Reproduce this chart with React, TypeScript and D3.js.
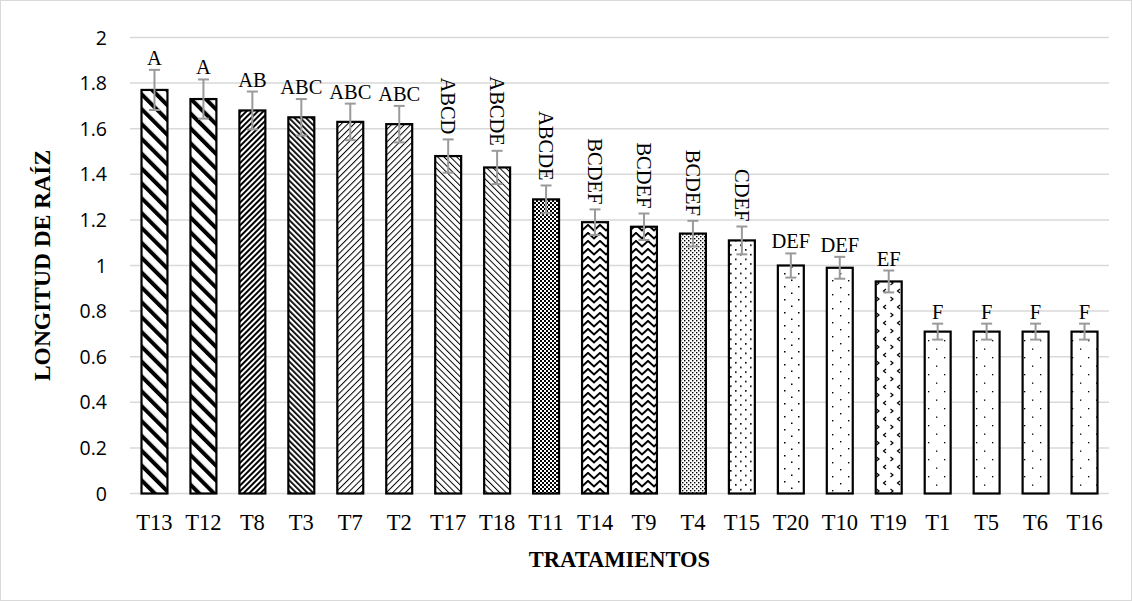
import React from 'react';
import * as d3 from 'd3';

const treatments = ['T13', 'T12', 'T8', 'T3', 'T7', 'T2', 'T17', 'T18', 'T11', 'T14', 'T9', 'T4', 'T15', 'T20', 'T10', 'T19', 'T1', 'T5', 'T6', 'T16'];
const rootLength = [1.77, 1.73, 1.68, 1.65, 1.63, 1.62, 1.48, 1.43, 1.29, 1.19, 1.17, 1.14, 1.11, 1.0, 0.99, 0.93, 0.71, 0.71, 0.71, 0.71];
const stdError = [0.088, 0.086, 0.083, 0.08, 0.08, 0.08, 0.073, 0.073, 0.061, 0.056, 0.058, 0.056, 0.061, 0.053, 0.048, 0.048, 0.035, 0.035, 0.035, 0.035];
const groups = ['A', 'A', 'AB', 'ABC', 'ABC', 'ABC', 'ABCD', 'ABCDE', 'ABCDE', 'BCDEF', 'BCDEF', 'BCDEF', 'CDEF', 'DEF', 'DEF', 'EF', 'F', 'F', 'F', 'F'];
const yTicks = [0, 0.2, 0.4, 0.6, 0.8, 1, 1.2, 1.4, 1.6, 1.8, 2];

// fill pattern used by each bar (Excel pattern fills)
const barPatterns = ['wideDown', 'wideDown', 'darkUp', 'darkDown', 'lightUp', 'lightUp', 'lightDown', 'lightDown', 'checker', 'zigzag', 'zigzag', 'dots50', 'dots30', 'dots20', 'dots10', 'confetti', 'dots5', 'dots5', 'dots5', 'dots5'];

const width = 1132;
const height = 601;
const marginLeft = 130;
const marginRight = 23;
const marginTop = 37.5;
const marginBottom = 107.5;

const serif = '"Liberation Serif", "Times New Roman", serif';
const sans = '"Open Sans", "Liberation Sans", sans-serif';

const Stripe = ({ id, size, w, angle }: { id: string; size: number; w: number; angle: number }) => (
  <pattern id={id} patternUnits="userSpaceOnUse" width={size} height={size} patternTransform={`rotate(${angle})`}>
    <rect width={size} height={size} fill="#fff" />
    <rect width={w} height={size} fill="#000" />
  </pattern>
);

const Dots = ({ id, pw, ph, r }: { id: string; pw: number; ph: number; r: number }) => (
  <pattern id={id} patternUnits="userSpaceOnUse" width={pw} height={ph}>
    <rect width={pw} height={ph} fill="#fff" />
    <rect x={0} y={0} width={r} height={r} fill="#000" />
    <rect x={pw / 2} y={ph / 2} width={r} height={r} fill="#000" />
  </pattern>
);

export default function App() {
  const x = d3.scaleBand<string>()
    .domain(treatments)
    .range([marginLeft, width - marginRight])
    .paddingInner(0.47)
    .paddingOuter(0.235);

  const y = d3.scaleLinear()
    .domain([0, 2])
    .range([height - marginBottom, marginTop]);

  const bw = x.bandwidth();

  return (
    <svg width={width} height={height} style={{ position: 'absolute', left: 0, top: 0 }}>
      <defs>
        <Stripe id="wideDown" size={10.5} w={4} angle={-45} />
        <Stripe id="darkUp" size={4} w={2} angle={45} />
        <Stripe id="darkDown" size={4} w={1.8} angle={-45} />
        <Stripe id="lightUp" size={4.5} w={1} angle={45} />
        <Stripe id="lightDown" size={4.5} w={1} angle={-45} />
        <pattern id="checker" patternUnits="userSpaceOnUse" width={4} height={4}>
          <rect width={4} height={4} fill="#fff" />
          <rect width={2} height={2} fill="#000" />
          <rect x={2} y={2} width={2} height={2} fill="#000" />
        </pattern>
        <pattern id="zigzag" patternUnits="userSpaceOnUse" width={12} height={8}>
          <rect width={12} height={8} fill="#fff" />
          <path d="M-1,0 L6,6.5 L13,0" fill="none" stroke="#000" strokeWidth={2} />
        </pattern>
        <Dots id="dots50" pw={4} ph={4} r={1.4} />
        <Dots id="dots30" pw={10} ph={9.4} r={1.6} />
        <Dots id="dots20" pw={14} ph={13} r={1.5} />
        <Dots id="dots10" pw={16} ph={14} r={1.4} />
        <Dots id="dots5" pw={16} ph={17} r={1.3} />
        <pattern id="confetti" patternUnits="userSpaceOnUse" width={14} height={16}>
          <rect width={14} height={16} fill="#fff" />
          <path d="M4,1 L1.5,3 L4,5" fill="none" stroke="#000" strokeWidth={1.2} />
          <path d="M8.5,9 L11,11 L8.5,13" fill="none" stroke="#000" strokeWidth={1.2} />
        </pattern>
      </defs>

      <rect x={0.5} y={0.5} width={width - 1} height={height - 1} fill="#fff" stroke="#d9d9d9" />

      {/* gridlines */}
      {yTicks.map(t => (
        <line key={t} x1={marginLeft} x2={width - marginRight} y1={y(t)} y2={y(t)} stroke="#d9d9d9" strokeWidth={1.5} />
      ))}

      {/* y tick labels */}
      {yTicks.map(t => (
        <text key={t} x={107} y={y(t)} dy="0.36em" textAnchor="end" fontFamily={sans} fontSize={19.5} fill="#000">
          {d3.format('~g')(t)}
        </text>
      ))}

      {/* bars */}
      {treatments.map((t, i) => (
        <rect key={t} x={x(t)} y={y(rootLength[i])} width={bw} height={y(0) - y(rootLength[i])}
          fill={`url(#${barPatterns[i]})`} stroke="#000" strokeWidth={2.2} />
      ))}

      {/* error bars */}
      {treatments.map((t, i) => {
        const cx = (x(t) as number) + bw / 2;
        const hi = y(rootLength[i] + stdError[i]);
        const lo = y(rootLength[i] - stdError[i]);
        return (
          <g key={t} stroke="#9a9a9a" strokeWidth={2}>
            <line x1={cx} x2={cx} y1={hi} y2={lo} />
            <line x1={cx - 5.5} x2={cx + 5.5} y1={hi} y2={hi} />
            <line x1={cx - 5.5} x2={cx + 5.5} y1={lo} y2={lo} />
          </g>
        );
      })}

      {/* group letters */}
      {treatments.map((t, i) => {
        const cx = (x(t) as number) + bw / 2;
        const top = y(rootLength[i] + stdError[i]);
        const label = groups[i];
        if (label.length >= 4) {
          return (
            <text key={t} transform={`translate(${cx},${top - 5}) rotate(90)`} textAnchor="end" dy="0.35em"
              fontFamily={serif} fontSize={20.5} fill="#000">{label}</text>
          );
        }
        return (
          <text key={t} x={cx} y={top - 5} textAnchor="middle" fontFamily={serif} fontSize={20.5} fill="#000">{label}</text>
        );
      })}

      {/* x tick labels */}
      {treatments.map(t => (
        <text key={t} x={(x(t) as number) + bw / 2} y={530} textAnchor="middle" fontFamily={serif} fontSize={22.5} fill="#000">{t}</text>
      ))}

      {/* axis titles */}
      <text x={(marginLeft + width - marginRight) / 2} y={567} textAnchor="middle" fontFamily={serif} fontWeight="bold" fontSize={22.5} fill="#000">TRATAMIENTOS</text>
      <text transform={`translate(50,${(marginTop + height - marginBottom) / 2}) rotate(-90)`} textAnchor="middle" fontFamily={serif} fontWeight="bold" fontSize={23.5} fill="#000">LONGITUD DE RAÍZ</text>
    </svg>
  );
}
